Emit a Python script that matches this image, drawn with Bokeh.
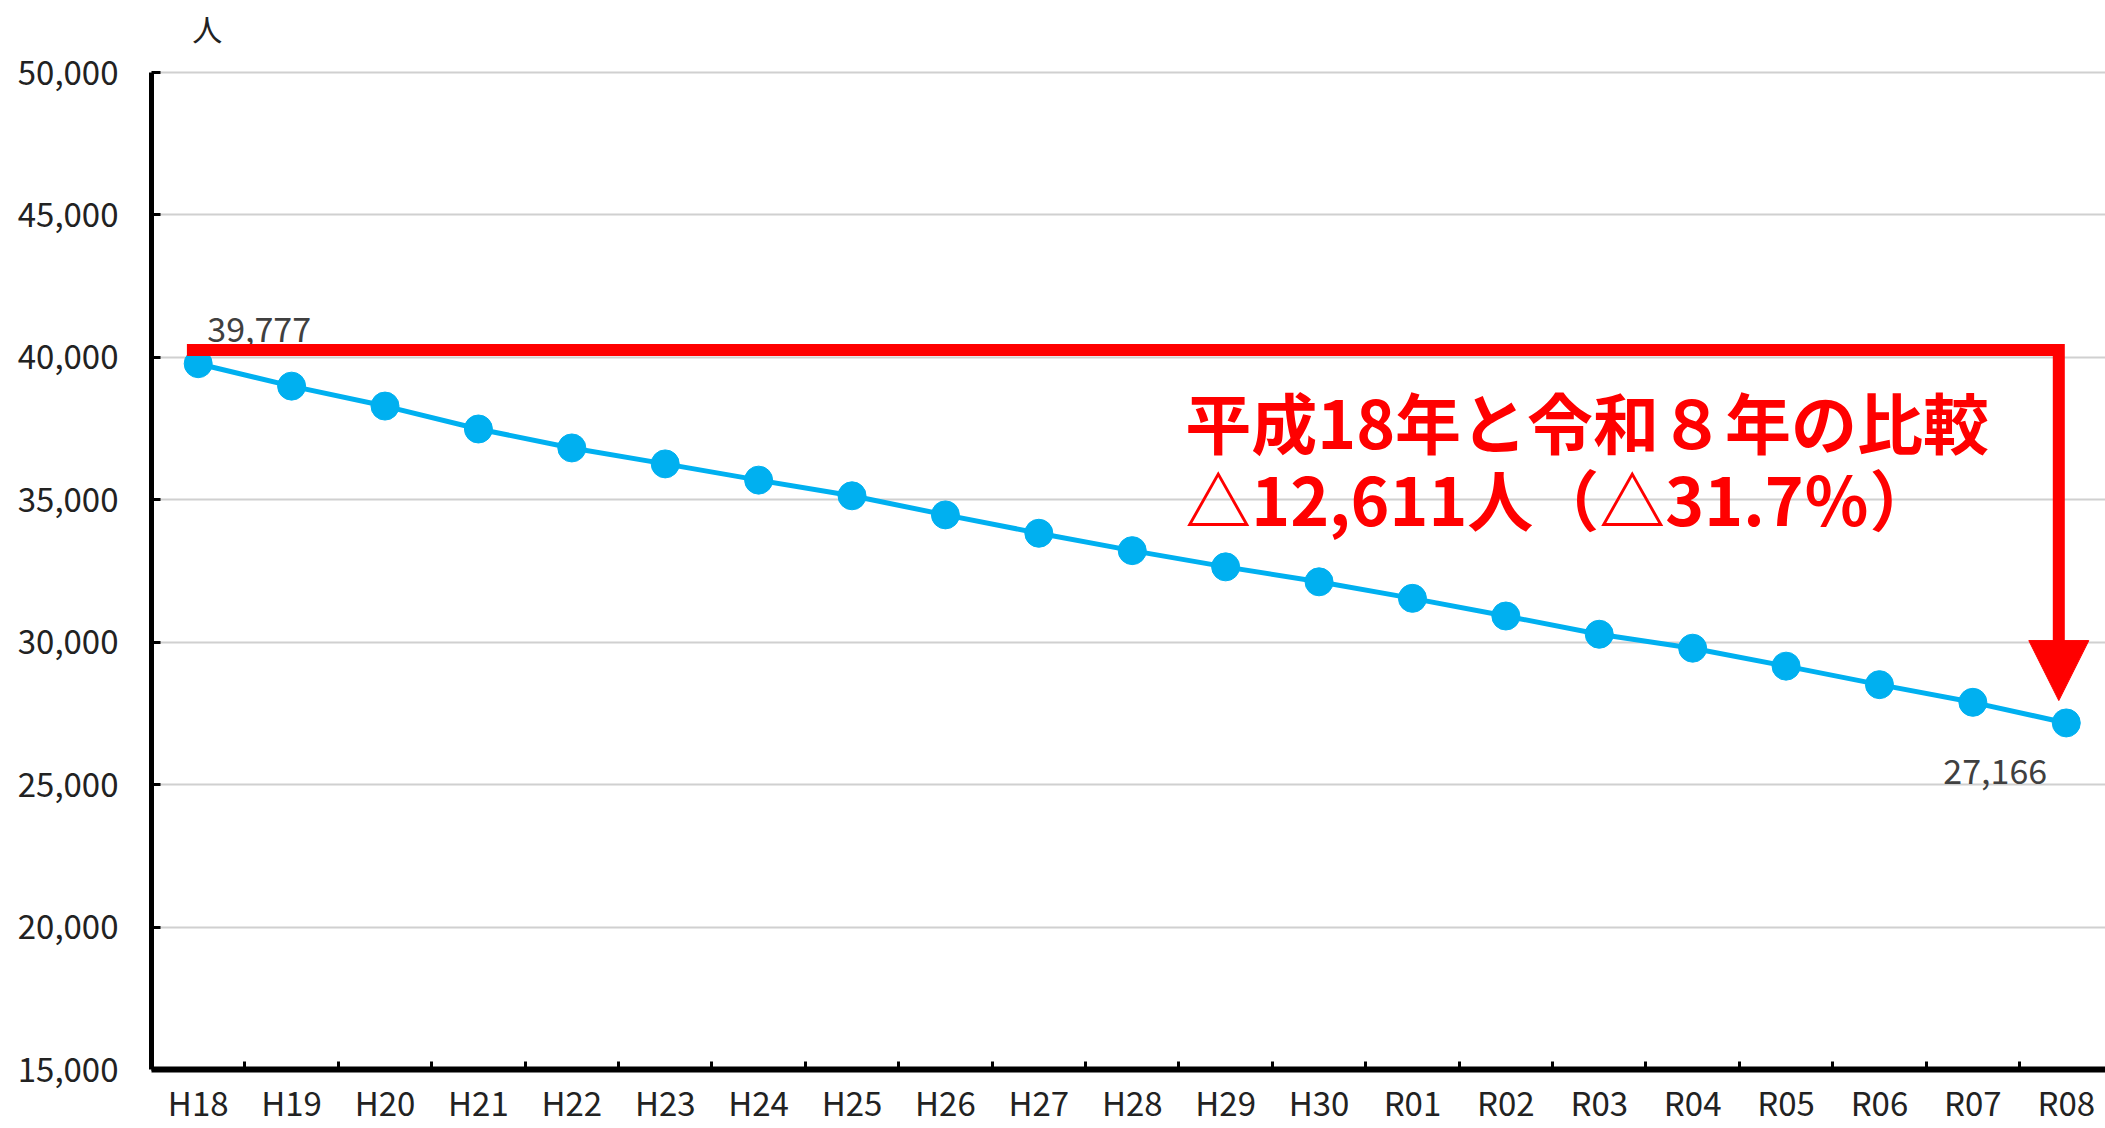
from bokeh.plotting import figure
from bokeh.models import Range1d, FixedTicker, NumeralTickFormatter, Label, Arrow, NormalHead
from bokeh.embed import file_html
from bokeh.resources import INLINE
from bokeh.core.properties import value

categories = ["H18", "H19", "H20", "H21", "H22", "H23", "H24", "H25", "H26", "H27", "H28",
              "H29", "H30", "R01", "R02", "R03", "R04", "R05", "R06", "R07", "R08"]
population = [39777, 38990, 38290, 37485, 36820, 36260, 35690, 35140, 34470, 33825, 33215,
              32645, 32120, 31540, 30920, 30280, 29790, 29160, 28510, 27890, 27166]
y_ticks = [15000, 20000, 25000, 30000, 35000, 40000, 45000, 50000]
unit_label = "人"
title_line1 = "平成18年と令和８年の比較"
change = population[0] - population[-1]
pct = change / population[0] * 100
title_line2 = f"△{change:,}人（△{pct:.1f}％）"

FONT = "Noto Sans CJK JP"
xs = list(range(len(categories)))
y_min, y_max = y_ticks[0], y_ticks[-1]
y_top = y_max + (y_max - y_min) * 64 / 997   # headroom above the axis for the unit label

p = figure(width=2105, height=1128, output_backend="svg", toolbar_location=None,
           x_range=Range1d(-0.5, 20.42), y_range=Range1d(y_min, y_top),
           min_border_left=151, min_border_right=0, min_border_top=8, min_border_bottom=57)
p.outline_line_color = None
p.background_fill_color = "white"
p.border_fill_color = "white"

# axes
p.xaxis.ticker = FixedTicker(ticks=xs, minor_ticks=[i + 0.5 for i in xs[:-1]])
p.xaxis.major_label_overrides = {i: c for i, c in zip(xs, categories)}
p.xaxis.major_tick_line_color = None
p.xaxis.major_tick_in = 0
p.xaxis.major_tick_out = 0
p.xaxis.minor_tick_in = 8
p.xaxis.minor_tick_out = 0
p.xaxis.minor_tick_line_width = 3
p.xaxis.minor_tick_line_color = "black"
p.xaxis.axis_line_width = 6
p.xaxis.axis_line_color = "black"
p.xaxis.major_label_text_font = FONT
p.xaxis.major_label_text_font_size = "33px"
p.xaxis.major_label_text_color = "#222222"
p.xaxis.major_label_standoff = 8

p.yaxis.ticker = FixedTicker(ticks=y_ticks)
p.yaxis.bounds = (y_min, y_max)
p.yaxis.formatter = NumeralTickFormatter(format="0,0")
p.yaxis.minor_tick_line_color = None
p.yaxis.major_tick_in = 9
p.yaxis.major_tick_out = 0
p.yaxis.major_tick_line_width = 3
p.yaxis.axis_line_width = 5
p.yaxis.axis_line_color = "black"
p.yaxis.major_label_text_font = FONT
p.yaxis.major_label_text_font_size = "33px"
p.yaxis.major_label_text_color = "#222222"
p.yaxis.major_label_standoff = 33

p.xgrid.grid_line_color = None
p.ygrid.grid_line_color = "#D0D0D0"
p.ygrid.grid_line_width = 2

# unit label above the y axis
p.add_layout(Label(x=0.096, y=y_max + (y_max - y_min) * 45 / 997, text=unit_label,
                   text_font=FONT, text_font_size="30px", text_color="#222222",
                   text_align="center", text_baseline="middle"))

# series
p.line(xs, population, line_color="#00B0F0", line_width=5)
p.scatter(xs, population, size=28, fill_color="#00B0F0", line_color="#00B0F0")

# data labels (first and last)
p.text(x=[xs[0], xs[-1]], y=[population[0], population[-1]],
       text=[f"{population[0]:,}", f"{population[-1]:,}"],
       x_offset=[61, -71], y_offset=[-34, 49],
       text_align="center", text_baseline="middle",
       text_font=value(FONT), text_font_size="34px", text_color="#404040")

# red bracket annotation
bracket_y = 40262
arrow_x = xs[-1] - 0.08
p.line([xs[0] - 0.121, arrow_x, arrow_x], [bracket_y, bracket_y, 29950],
       line_color="#FF0000", line_width=12, line_join="miter", line_cap="butt")
p.add_layout(Arrow(end=NormalHead(size=60, fill_color="#FF0000", line_color="#FF0000", line_width=1),
                   x_start=arrow_x, y_start=30100, x_end=arrow_x, y_end=27951,
                   line_alpha=0, line_width=1))

p.add_layout(Label(x=10.567, y=37797, text=title_line1, text_font=FONT, text_font_size="66px",
                   text_font_style="bold", text_color="#FF0000", text_baseline="middle"))
p.add_layout(Label(x=10.567, y=35105, text=title_line2, text_font=FONT, text_font_size="66px",
                   text_font_style="bold", text_color="#FF0000", text_baseline="middle"))

open("out.html", "w").write(file_html(p, INLINE))
